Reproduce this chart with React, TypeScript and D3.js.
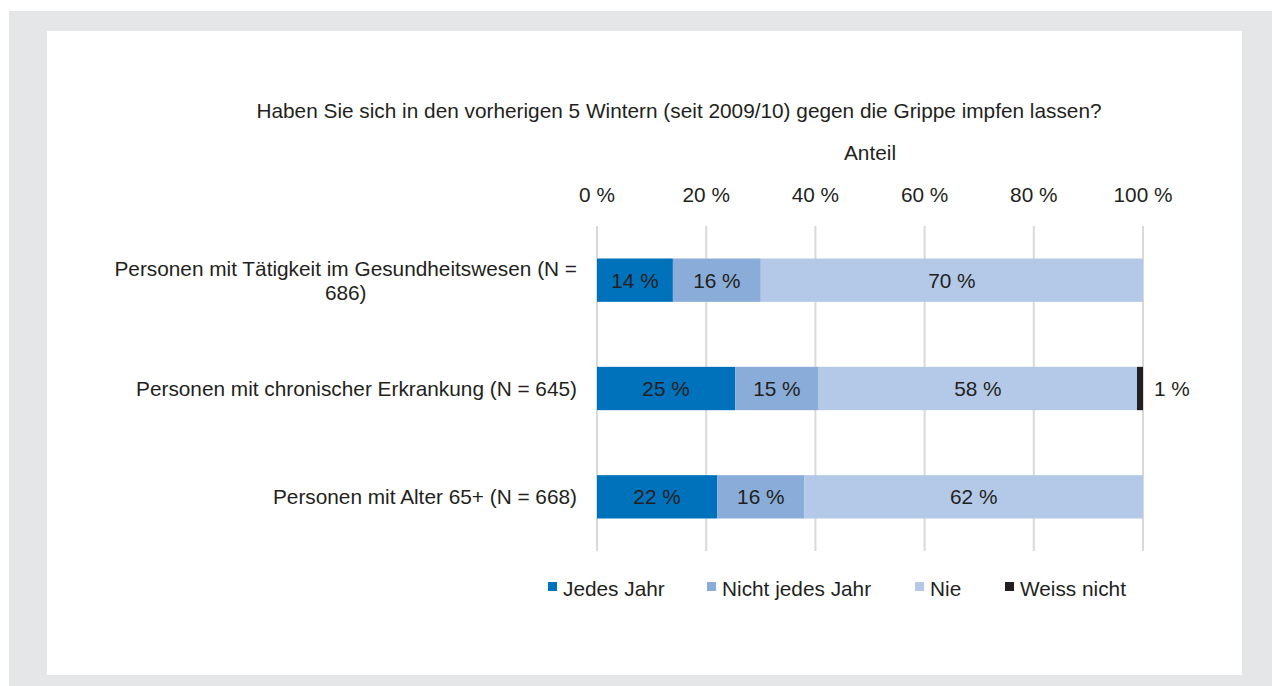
import React, { useEffect, useRef } from 'react';
import * as d3 from 'd3';

// Data
const title = 'Haben Sie sich in den vorherigen 5 Wintern (seit 2009/10) gegen die Grippe impfen lassen?';
const axisTitle = 'Anteil';
const groups = [
  ['Personen mit Tätigkeit im Gesundheitswesen (N =', '686)'],
  ['Personen mit chronischer Erkrankung (N = 645)'],
  ['Personen mit Alter 65+ (N = 668)'],
];
const seriesNames = ['Jedes Jahr', 'Nicht jedes Jahr', 'Nie', 'Weiss nicht'];
const jedesJahr = [13.9, 25.3, 22.0];
const nichtJedesJahr = [16.1, 15.3, 16.0];
const nie = [70.0, 58.3, 62.0];
const weissNicht = [0, 1.1, 0];
const tickValues = [0, 20, 40, 60, 80, 100];

const colors = ['#0071bb', '#89acd9', '#b4c9e7', '#231f20'];
const textColor = '#231f20';
const font = '"Liberation Sans", Arial, sans-serif';
const fs = 20.8;

const App = () => {
  const svgRef = useRef<SVGSVGElement>(null);

  useEffect(() => {
    const W = 1272;
    const H = 686;
    const svg = d3.select(svgRef.current).attr('width', W).attr('height', H);
    svg.selectAll('*').remove();

    // frame
    svg.append('rect').attr('x', 9).attr('y', 11).attr('width', W - 9).attr('height', H - 11).attr('fill', '#e5e6e7');
    svg.append('rect').attr('x', 47).attr('y', 31).attr('width', 1195).attr('height', 644).attr('fill', '#ffffff');

    const series = [jedesJahr, nichtJedesJahr, nie, weissNicht];
    const rows = groups.map((g, i) => ({
      key: String(i),
      label: g,
      values: series.map(s => s[i]),
    }));

    const x = d3.scaleLinear().domain([0, 100]).range([597, 1143]);
    const y = d3.scaleBand().domain(rows.map(r => r.key)).range([226, 551]).paddingInner(0.6).paddingOuter(0.3);

    const txt = (sel: any) => sel.attr('font-family', font).attr('fill', textColor).attr('font-size', fs);

    // title
    svg.append('text').call(txt).attr('x', 679).attr('y', 118).attr('text-anchor', 'middle').text(title);
    svg.append('text').call(txt).attr('x', 870).attr('y', 160).attr('text-anchor', 'middle').text(axisTitle);

    // grid
    svg.append('g').selectAll('line').data(tickValues).join('line')
      .attr('x1', d => x(d)).attr('x2', d => x(d))
      .attr('y1', 226).attr('y2', 551)
      .attr('stroke', '#d9d9d9').attr('stroke-width', 2);

    // tick labels
    svg.append('g').selectAll('text').data(tickValues).join('text')
      .call(txt).attr('text-anchor', 'middle')
      .attr('x', d => x(d)).attr('y', 202)
      .text(d => `${d} %`);

    // bars
    rows.forEach(r => {
      let acc = 0;
      r.values.forEach((v, si) => {
        const x0 = x(acc);
        const x1 = x(acc + v);
        acc += v;
        if (v <= 0) return;
        svg.append('rect')
          .attr('x', x0).attr('y', y(r.key)!)
          .attr('width', x1 - x0).attr('height', y.bandwidth())
          .attr('fill', colors[si]);
        const yc = y(r.key)! + y.bandwidth() / 2 + 7.5;
        if (si < 3) {
          svg.append('text').call(txt).attr('text-anchor', 'middle')
            .attr('x', (x0 + x1) / 2).attr('y', yc).text(`${Math.round(v)} %`);
        } else {
          svg.append('text').call(txt).attr('text-anchor', 'start')
            .attr('x', x1 + 11).attr('y', yc).text(`${Math.round(v)} %`);
        }
      });
    });

    // category labels
    rows.forEach(r => {
      const yc = y(r.key)! + y.bandwidth() / 2;
      const lineH = 24;
      const n = r.label.length;
      const g = svg.append('g');
      const t0 = g.append('text').call(txt).attr('text-anchor', 'end')
        .attr('x', 577).attr('y', yc + 7.5 - ((n - 1) * lineH) / 2).text(r.label[0]);
      if (n > 1) {
        const w = (t0.node() as SVGTextElement).getComputedTextLength();
        r.label.slice(1).forEach((l, li) => {
          g.append('text').call(txt).attr('text-anchor', 'middle')
            .attr('x', 577 - w / 2).attr('y', yc + 7.5 - ((n - 1) * lineH) / 2 + (li + 1) * lineH).text(l);
        });
      }
    });

    // legend
    const legendX = [548, 707, 915, 1005];
    const lg = svg.append('g');
    seriesNames.forEach((name, i) => {
      lg.append('rect').attr('x', legendX[i]).attr('y', 582).attr('width', 9).attr('height', 9).attr('fill', colors[i]);
      lg.append('text').call(txt).attr('x', legendX[i] + 15).attr('y', 596).text(name);
    });
  }, []);

  return <svg ref={svgRef} style={{ display: 'block', position: 'absolute', left: 0, top: 0 }}></svg>;
};

export default App;
